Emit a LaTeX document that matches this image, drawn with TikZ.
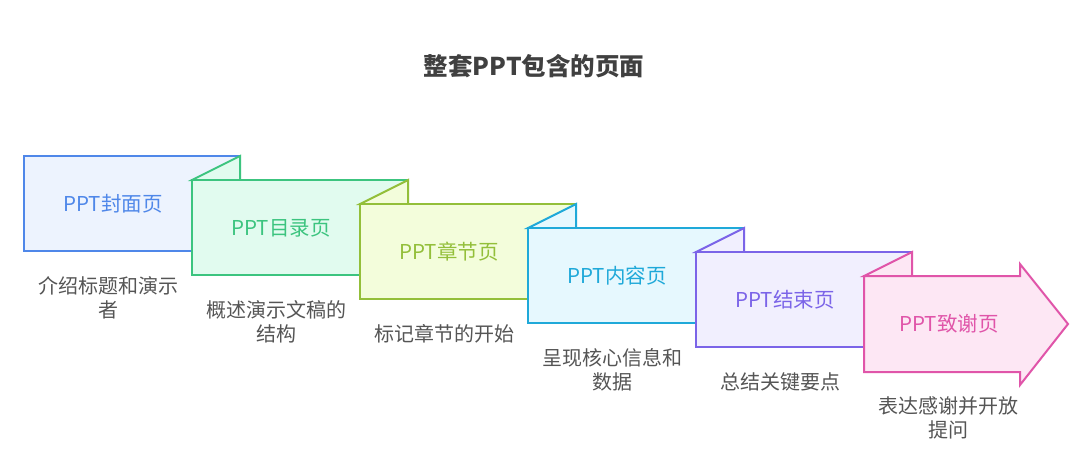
\documentclass[tikz,border=0pt]{standalone}
\usepackage{fontspec}
\setmainfont{Noto Sans CJK SC}
\begin{document}
\begin{tikzpicture}[x=1pt,y=-1pt,
  shapeline/.style={line width=2pt, line join=miter},
  lbl/.style={font=\fontsize{20.5}{24}\selectfont, inner sep=0pt, anchor=center},
  desc/.style={font=\fontsize{20}{24}\selectfont, text=descgray, align=center, inner sep=0pt, anchor=north},
  ttl/.style={font=\fontsize{24.5}{28}\selectfont\bfseries, text=titlegray, inner sep=0pt}]
\definecolor{descgray}{HTML}{555555}
\definecolor{titlegray}{HTML}{404040}
\definecolor{s1}{HTML}{4F87E9}\definecolor{f1}{HTML}{EDF3FE}
\definecolor{s2}{HTML}{3CC47F}\definecolor{f2}{HTML}{E1FBEF}
\definecolor{s3}{HTML}{93BF3A}\definecolor{f3}{HTML}{F3FDDB}
\definecolor{s4}{HTML}{1FA9D9}\definecolor{f4}{HTML}{E6F8FE}
\definecolor{s5}{HTML}{7B64E8}\definecolor{f5}{HTML}{F1EFFE}
\definecolor{s6}{HTML}{E055A9}\definecolor{f6}{HTML}{FDE7F4}
\useasboundingbox (0,0) rectangle (1092,453);
\fill[white] (0,0) rectangle (1092,453);

\node[ttl] (title) at (534,66) {整套PPT包含的页面};

% box 1
\draw[shapeline, draw=s1, fill=f1] (24,156) rectangle (240,251);
\node[lbl, text=s1] (l1) at (113,204) {PPT封面页};
\node[desc] (d1) at (108,276) {介绍标题和演示\\者};

% box 2
\draw[shapeline, draw=s2, fill=f2] (192,180) -- (240,156) -- (240,180) -- cycle;
\draw[shapeline, draw=s2, fill=f2] (192,180) rectangle (408,275);
\node[lbl, text=s2] (l2) at (281,228) {PPT目录页};
\node[desc] (d2) at (276,300) {概述演示文稿的\\结构};

% box 3
\draw[shapeline, draw=s3, fill=f3] (360,204) -- (408,180) -- (408,204) -- cycle;
\draw[shapeline, draw=s3, fill=f3] (360,204) rectangle (576,299);
\node[lbl, text=s3] (l3) at (449,252) {PPT章节页};
\node[desc] (d3) at (444,324) {标记章节的开始};

% box 4
\draw[shapeline, draw=s4, fill=f4] (528,228) -- (576,204) -- (576,228) -- cycle;
\draw[shapeline, draw=s4, fill=f4] (528,228) rectangle (744,323);
\node[lbl, text=s4] (l4) at (617,276) {PPT内容页};
\node[desc] (d4) at (612,348) {呈现核心信息和\\数据};

% box 5
\draw[shapeline, draw=s5, fill=f5] (696,252) -- (744,228) -- (744,252) -- cycle;
\draw[shapeline, draw=s5, fill=f5] (696,252) rectangle (912,347);
\node[lbl, text=s5] (l5) at (785,300) {PPT结束页};
\node[desc] (d5) at (780,372) {总结关键要点};

% box 6 (arrow)
\draw[shapeline, draw=s6, fill=f6] (864,276) -- (912,252) -- (912,276) -- cycle;
\draw[shapeline, draw=s6, fill=f6] (864,372) -- (864,276) -- (1020,276) -- (1020,264)
  -- (1068,324) -- (1020,385) -- (1020,372) -- cycle;
\node[lbl, text=s6] (l6) at (949,324) {PPT致谢页};
\node[desc] (d6) at (948,396) {表达感谢并开放\\提问};
\end{tikzpicture}
\end{document}
